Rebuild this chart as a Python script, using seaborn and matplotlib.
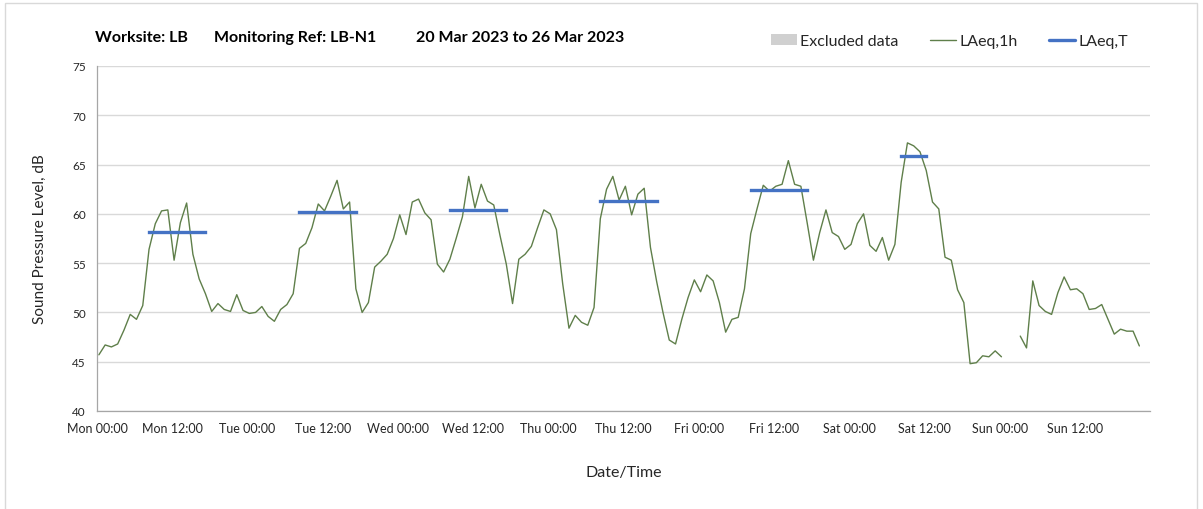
import numpy as np
import pandas as pd
import matplotlib
matplotlib.use("Agg")
import matplotlib.pyplot as plt
from matplotlib.lines import Line2D
from matplotlib.patches import Patch, Rectangle
import seaborn as sns

# hourly LAeq,1h values, Mon 00:00 .. Sun 22:00 (NaN = no data)
laeq_1h = [45.7, 46.7, 46.5, 46.8, 48.2, 49.8, 49.3, 50.7, 56.4, 59.0,
           60.3, 60.4, 55.3, 59.1, 61.1, 55.9, 53.4, 51.9, 50.1, 50.9,
           50.3, 50.1, 51.8, 50.2, 49.9, 50.0, 50.6, 49.6, 49.1, 50.3,
           50.8, 51.9, 56.5, 57.0, 58.6, 61.0, 60.3, 61.8, 63.4, 60.5,
           61.2, 52.4, 50.0, 51.0, 54.6, 55.2, 55.9, 57.5, 59.9, 57.9,
           61.2, 61.5, 60.1, 59.4, 54.9, 54.1, 55.4, 57.5, 59.7, 63.8,
           60.6, 63.0, 61.3, 60.9, 57.8, 54.9, 50.9, 55.4, 55.9, 56.7,
           58.6, 60.4, 60.0, 58.4, 52.9, 48.4, 49.7, 49.0, 48.7, 50.5,
           59.5, 62.5, 63.8, 61.4, 62.8, 59.9, 62.0, 62.6, 56.6, 53.1,
           50.0, 47.2, 46.8, 49.3, 51.5, 53.3, 52.1, 53.8, 53.2, 51.0,
           48.0, 49.3, 49.5, 52.4, 58.0, 60.5, 62.9, 62.3, 62.8, 63.0,
           65.4, 63.0, 62.8, 59.1, 55.3, 58.1, 60.4, 58.1, 57.7, 56.4,
           56.9, 59.0, 60.0, 56.8, 56.2, 57.6, 55.3, 56.9, 63.2, 67.2,
           66.9, 66.3, 64.4, 61.2, 60.5, 55.6, 55.3, 52.3, 51.0, 44.8,
           44.9, 45.6, 45.5, 46.1, 45.5, np.nan, np.nan, 47.6, 46.4, 53.2,
           50.7, 50.1, 49.8, 52.0, 53.6, 52.3, 52.4, 51.9, 50.3, 50.4,
           50.8, 49.3, 47.8, 48.3, 48.1, 48.1, 46.6]

# LAeq,T daytime periods (hour index from Mon 00:00)
period_start = [8, 32, 56, 80, 104, 128]
period_end = [17, 41, 65, 89, 113, 132]
period_laeq = [58.2, 60.2, 60.4, 61.3, 62.4, 65.9]

days = ['Mon', 'Tue', 'Wed', 'Thu', 'Fri', 'Sat', 'Sun']
tick_labels = [f"{d} {t}" for d in days for t in ('00:00', '12:00')] + ['']

title_parts = ['Worksite: LB', 'Monitoring Ref: LB-N1', '20 Mar 2023 to 26 Mar 2023']

green = '#5f7f4a'
blue = '#4472c4'
grid_c = '#d9d9d9'
axis_c = '#a6a6a6'
txt_c = '#262626'

sns.set_style("white")
plt.rcParams['font.family'] = ['Lato', 'DejaVu Sans']

# hourly frame; split into runs so the gap stays a gap
df = pd.DataFrame({'hour': np.arange(len(laeq_1h)) + 0.3, 'LAeq': laeq_1h})
df['run'] = df['LAeq'].isna().cumsum()
df = df.dropna()

seg = pd.DataFrame({
    'hour': [h + 0.3 for pair in zip(period_start, period_end) for h in pair],
    'LAeq': [v for v in period_laeq for _ in range(2)],
    'day': [i for i in range(len(period_laeq)) for _ in range(2)],
})

fig = plt.figure(figsize=(12.03, 5.10), dpi=100)
ax = fig.add_axes([97 / 1203, 98 / 510, (1150 - 97) / 1203, (412 - 67) / 510])

sns.lineplot(data=df, x='hour', y='LAeq', units='run', estimator=None,
             color=green, lw=1.0, ax=ax, legend=False)
sns.lineplot(data=seg, x='hour', y='LAeq', units='day', estimator=None,
             color=blue, lw=2.4, ax=ax, legend=False,
             solid_capstyle='projecting')

ax.set_xlim(0, 168)
ax.set_ylim(40, 75)
ax.set_xticks(np.arange(0, 169, 12))
ax.set_xticklabels(tick_labels, fontsize=9, color=txt_c)
ax.set_xticks(np.arange(0, 169, 24), minor=True)
ax.set_yticks(np.arange(40, 76, 5))
ax.set_yticklabels([str(v) for v in range(40, 76, 5)], fontsize=8.5, color=txt_c)
ax.grid(False)
ax.grid(True, which='minor', axis='x', color=grid_c, lw=1)
ax.grid(True, which='major', axis='y', color=grid_c, lw=1)
ax.set_axisbelow(True)
ax.tick_params(axis='both', which='major', length=4, width=0.8, color=axis_c, pad=4)
ax.tick_params(axis='x', which='minor', length=0)
for s in ('top', 'right'):
    ax.spines[s].set_visible(False)
for s in ('left', 'bottom'):
    ax.spines[s].set_color(axis_c)
    ax.spines[s].set_linewidth(0.9)

ax.set_xlabel('Date/Time', fontsize=11.5, color=txt_c, labelpad=22)
ax.set_ylabel('Sound Pressure Level, dB', fontsize=11, color=txt_c, labelpad=18)

for x, t in zip([95, 214, 416], title_parts):
    fig.text(x / 1203, 1 - 38 / 510, t, fontsize=11.5, fontweight='bold',
             color='black', va='center', ha='left')

handles = [Patch(facecolor='#d0d0d0', edgecolor='none', label='Excluded data'),
           Line2D([], [], color=green, lw=1.0, label='LAeq,1h'),
           Line2D([], [], color=blue, lw=2.4, label='LAeq,T')]
fig.legend(handles=handles, loc='center right', ncol=3, frameon=False,
           bbox_to_anchor=(1142 / 1203, 1 - 42 / 510), fontsize=11.5,
           handlelength=1.6, handletextpad=0.2, columnspacing=2.0,
           labelcolor=txt_c)

fig.add_artist(Rectangle((5 / 1203, -0.02), (1197 - 5) / 1203, (510 - 4) / 510 + 0.02,
                         transform=fig.transFigure, fill=False,
                         edgecolor=grid_c, lw=1))

fig.savefig('out.png', dpi=100)
